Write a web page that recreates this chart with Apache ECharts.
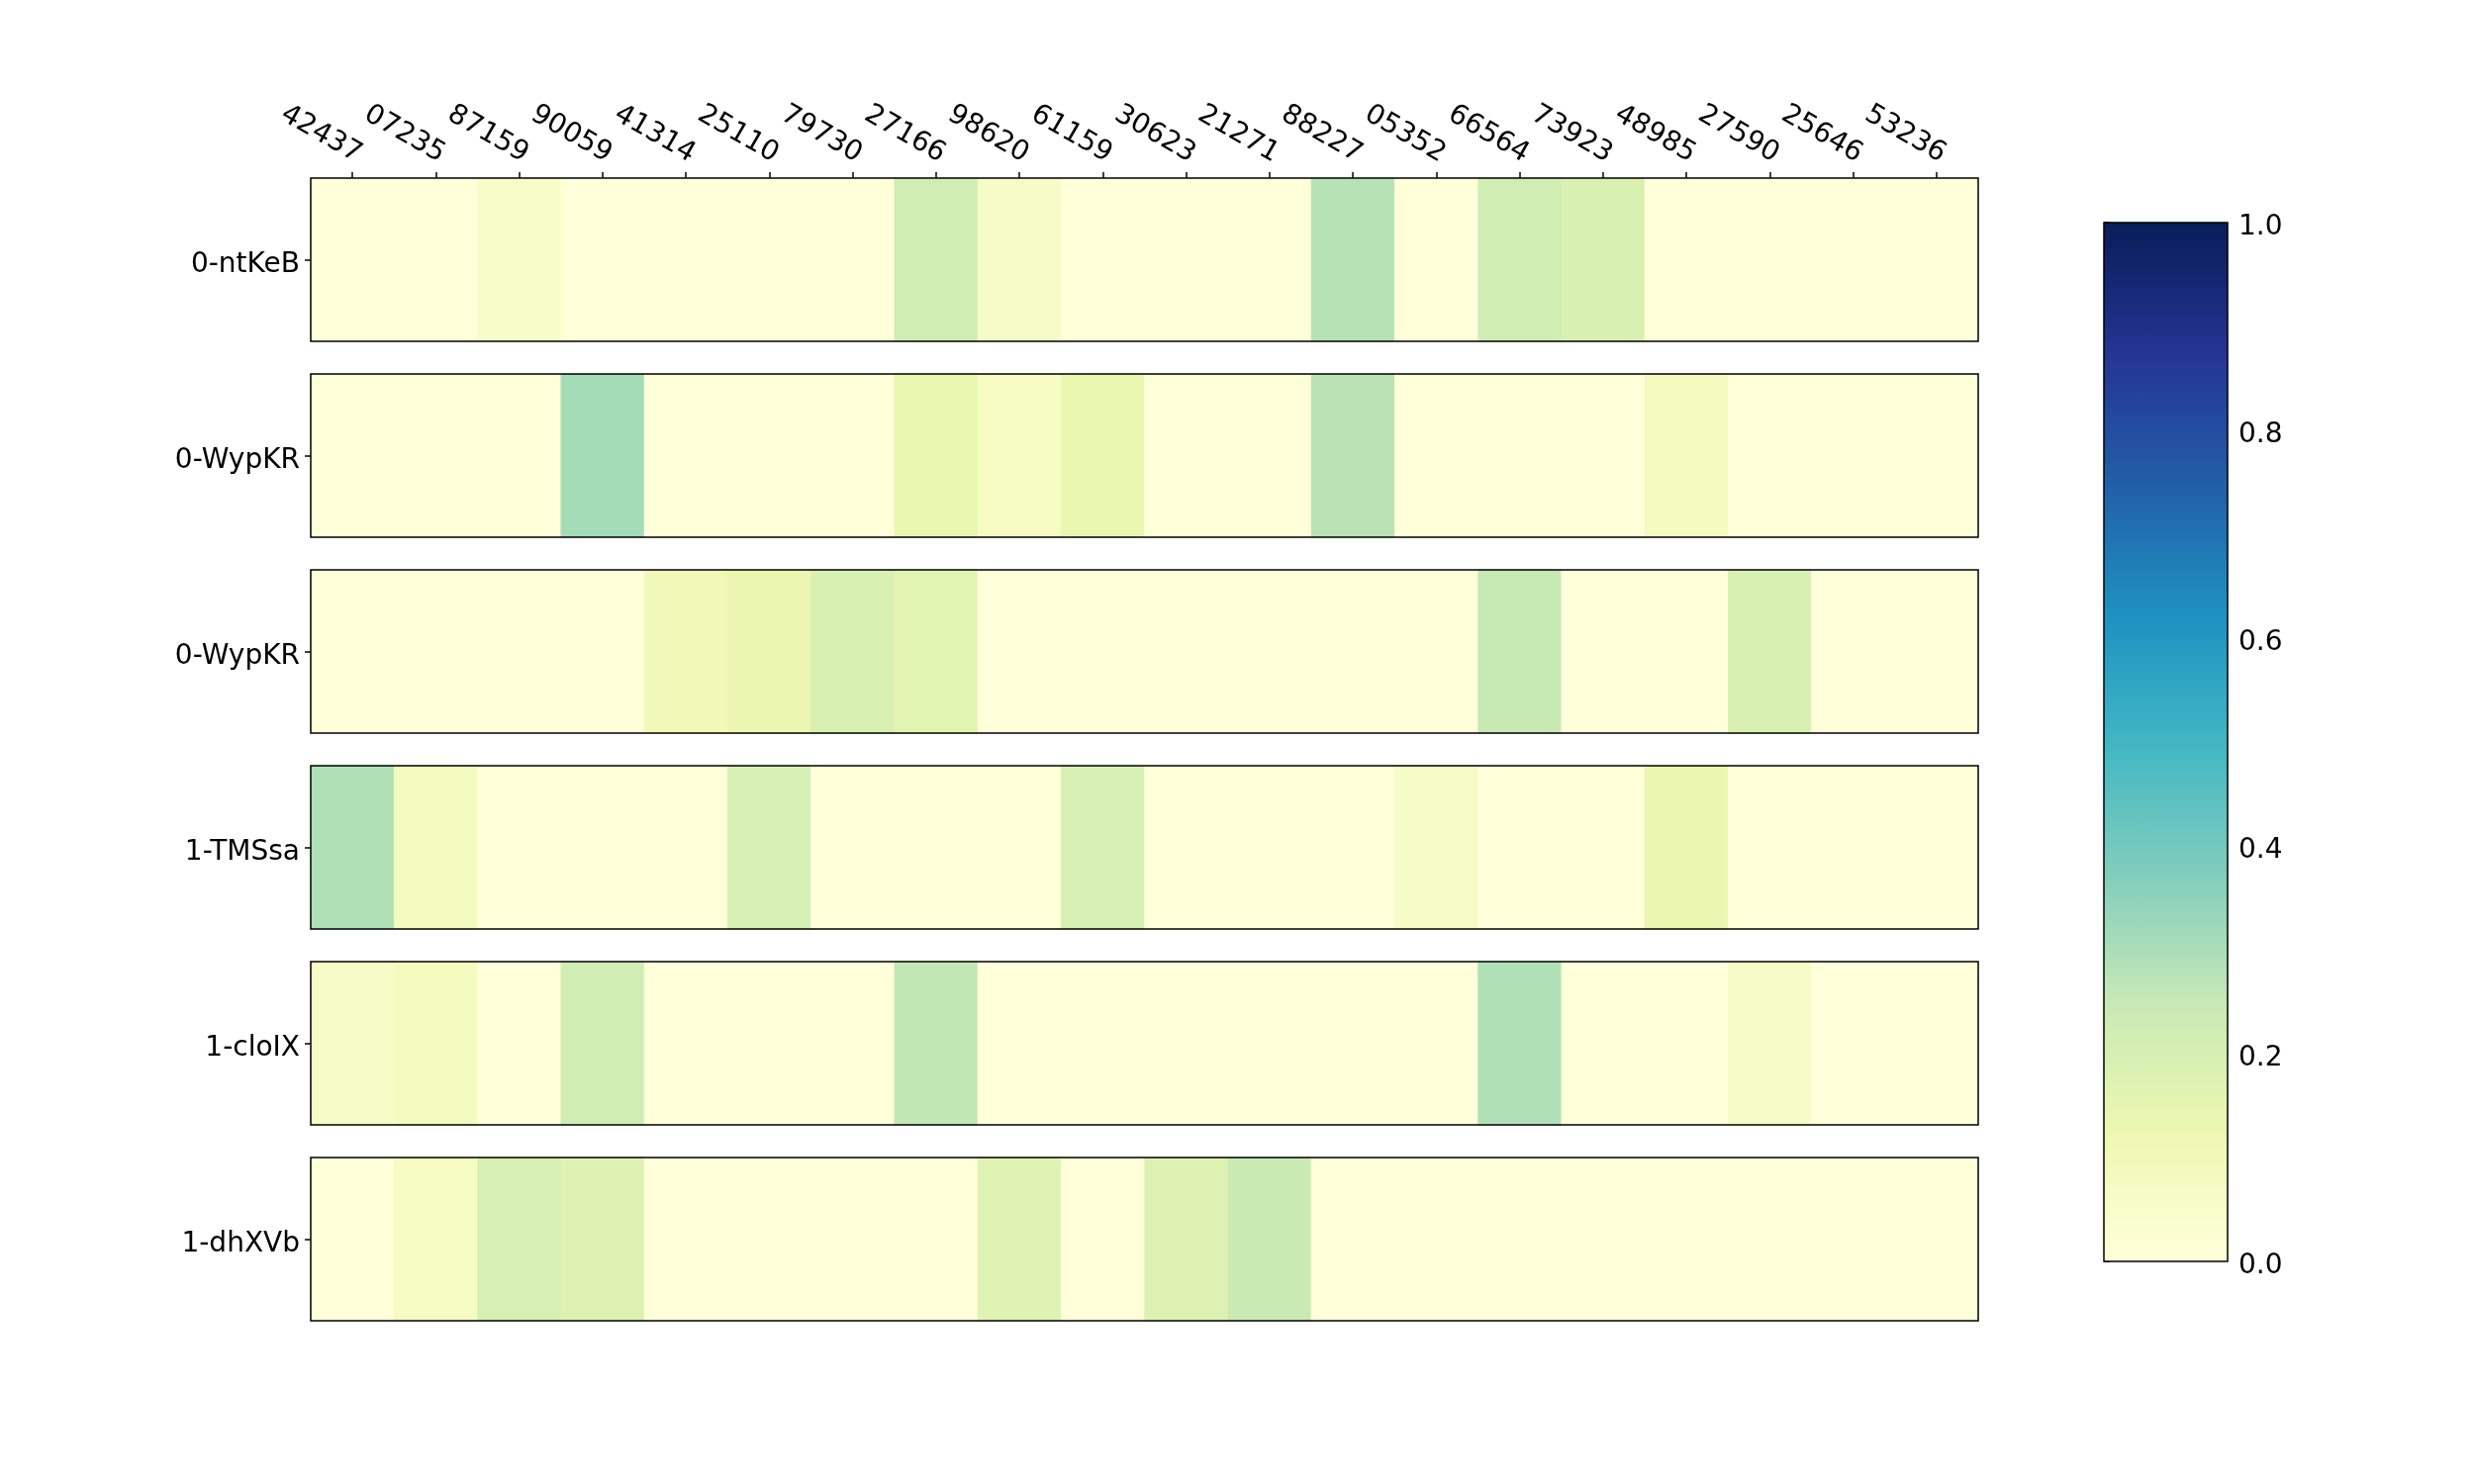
<!DOCTYPE html>
<html>
<head>
<meta charset="utf-8">
<script src="https://cdn.jsdelivr.net/npm/echarts@6/dist/echarts.min.js"></script>
<style>
  html, body { margin: 0; padding: 0; background: #fff; }
  #main { width: 2500px; height: 1500px; }
</style>
</head>
<body>
<div id="main"></div>
<script>
var cols = ['42437', '07235', '87159', '90059', '41314', '25110', '79730', '27166', '98620', '61159',
  '30623', '21271', '88227', '05352', '66564', '73923', '48985', '27590', '25646', '53236']
var rowNames = ['0-ntKeB', '0-WypKR', '0-WypKR', '1-TMSsa', '1-cloIX', '1-dhXVb']

var row0 = [0, 0, 0.05, 0, 0, 0, 0, 0.22, 0.06, 0, 0, 0, 0.28, 0, 0.22, 0.19, 0, 0, 0, 0]
var row1 = [0, 0, 0, 0.31, 0, 0, 0, 0.135, 0.07, 0.135, 0, 0, 0.275, 0, 0, 0, 0.08, 0, 0, 0]
var row2 = [0, 0, 0, 0, 0.1, 0.13, 0.19, 0.16, 0, 0, 0, 0, 0, 0, 0.25, 0, 0, 0.19, 0, 0]
var row3 = [0.29, 0.08, 0, 0, 0, 0.2, 0, 0, 0, 0.2, 0, 0, 0, 0.06, 0, 0, 0.13, 0, 0, 0]
var row4 = [0.06, 0.08, 0, 0.22, 0, 0, 0, 0.26, 0, 0, 0, 0, 0, 0, 0.29, 0, 0, 0.06, 0, 0]
var row5 = [0, 0.07, 0.2, 0.18, 0, 0, 0, 0, 0.17, 0, 0.18, 0.24, 0, 0, 0, 0, 0, 0, 0, 0]
var rows = [row0, row1, row2, row3, row4, row5]

// YlGnBu
var ylgnbu = ['#ffffd9', '#edf8b1', '#c7e9b4', '#7fcdbb', '#41b6c4', '#1d91c0', '#225ea8', '#253494', '#081d58']

var font = 'DejaVu Sans'
var plotLeft = 314
var plotWidth = 1685
var rowTop = 180
var rowHeight = 165
var rowStep = 198

// matplotlib puts y tick labels a bit lower (center_baseline)
var lowered = { t: { fontSize: 28, fontFamily: font, color: '#000', padding: [10, 0, 0, 0] } }

var grids = []
var xAxes = []
var yAxes = []
var series = []

rows.forEach(function (vals, r) {
  grids.push({
    left: plotLeft, top: rowTop + r * rowStep, width: plotWidth, height: rowHeight,
    show: true, borderColor: '#000', borderWidth: 1.5, backgroundColor: 'transparent', z: 10
  })
  xAxes.push({
    type: 'category', gridIndex: r, data: cols, position: 'top',
    axisLine: { show: false },
    axisTick: { show: r === 0, alignWithLabel: true, length: 6, lineStyle: { color: '#000', width: 1.5 } },
    axisLabel: {
      show: r === 0, rotate: 30, align: 'right', verticalAlign: 'bottom', margin: 10,
      fontSize: 28, fontFamily: font, color: '#000', interval: 0, hideOverlap: false
    },
    splitLine: { show: false }
  })
  yAxes.push({
    type: 'category', gridIndex: r, data: [rowNames[r]],
    axisLine: { show: false },
    axisTick: { show: true, alignWithLabel: true, length: 6, lineStyle: { color: '#000', width: 1.5 } },
    axisLabel: {
      margin: 11, rich: lowered,
      formatter: function (v) { return '{t|' + v + '}' }
    },
    splitLine: { show: false }
  })
  series.push({
    type: 'heatmap', xAxisIndex: r, yAxisIndex: r,
    data: vals.map(function (v, i) { return [i, 0, v] }),
    itemStyle: { borderWidth: 0 },
    emphasis: { disabled: true },
    silent: true
  })
})

// colorbar axis
var cb = rows.length
grids.push({
  left: 2126, top: 225, width: 125, height: 1050,
  show: true, borderColor: '#000', borderWidth: 1.5, backgroundColor: 'transparent', z: 10
})
xAxes.push({ type: 'value', gridIndex: cb, min: 0, max: 1, show: false })
yAxes.push({
  type: 'value', gridIndex: cb, min: 0, max: 1, interval: 0.2, position: 'right',
  axisLine: { show: false },
  axisTick: { show: true, length: 6, lineStyle: { color: '#000', width: 1.5 } },
  axisLabel: {
    margin: 11, rich: lowered,
    formatter: function (v) { return '{t|' + v.toFixed(1) + '}' }
  },
  splitLine: { show: false }
})

var chart = echarts.init(document.getElementById('main'))
chart.setOption({
  backgroundColor: '#fff',
  animation: false,
  grid: grids,
  xAxis: xAxes,
  yAxis: yAxes,
  visualMap: {
    type: 'continuous', min: 0, max: 1, calculable: false,
    seriesIndex: series.map(function (s, i) { return i }),
    inRange: { color: ylgnbu },
    left: 2126, top: 225, itemWidth: 125, itemHeight: 1050,
    padding: 0, text: null, showLabel: false, hoverLink: false
  },
  series: series
})
</script>
</body>
</html>
